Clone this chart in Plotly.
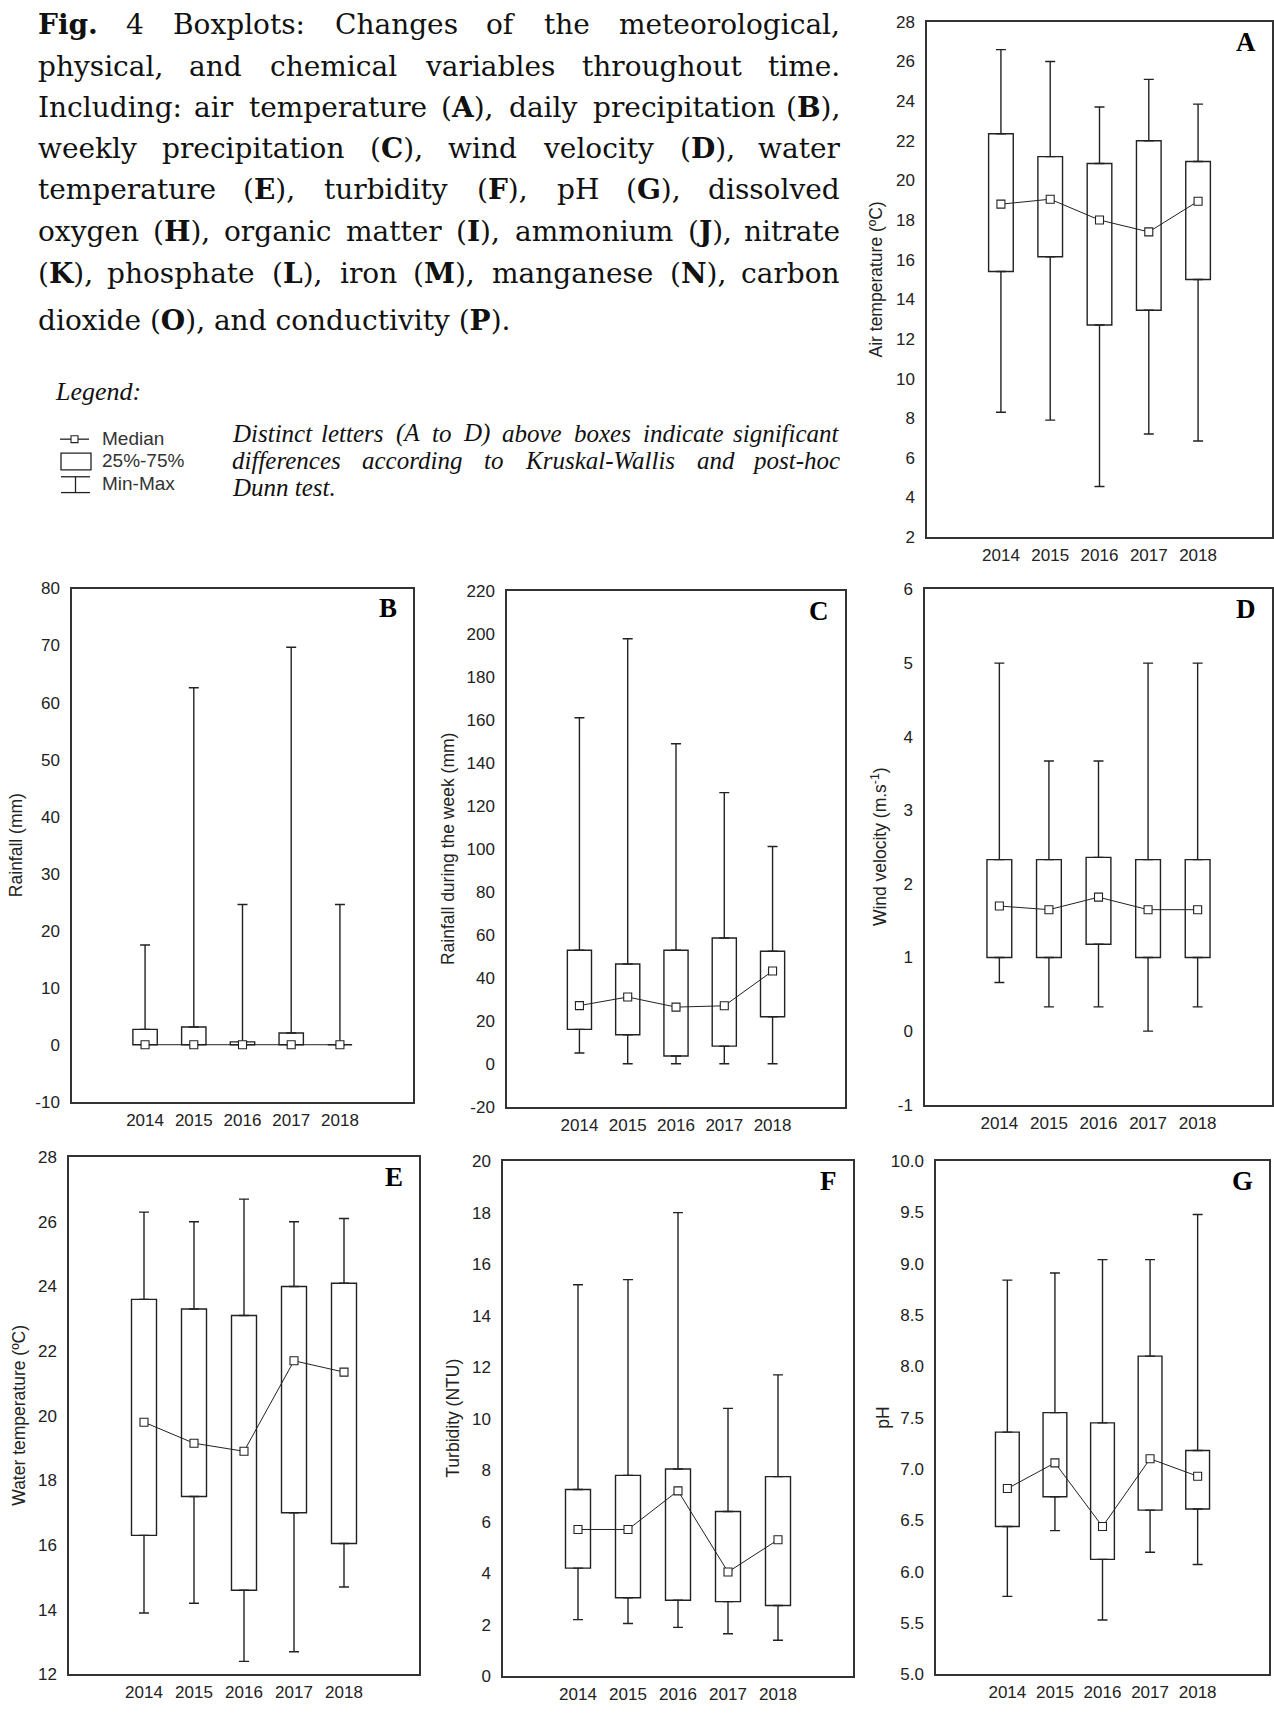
import re
import plotly.graph_objects as go

W, H = 1274, 1715
INK = "#222222"
FRAME = "#333333"

years = ["2014", "2015", "2016", "2017", "2018"]

# A - air temperature (ºC)
air_min = [8.3, 7.9, 4.55, 7.2, 6.85]
air_q1 = [15.4, 16.15, 12.7, 13.45, 15.0]
air_med = [18.8, 19.05, 18.0, 17.4, 18.95]
air_q3 = [22.35, 21.2, 20.85, 22.0, 20.95]
air_max = [26.6, 26.0, 23.7, 25.1, 23.85]
air_ticks = [2, 4, 6, 8, 10, 12, 14, 16, 18, 20, 22, 24, 26, 28]

# B - daily rainfall (mm)
rain_min = [0, 0, 0, 0, 0]
rain_q1 = [0, 0, 0, 0, 0]
rain_med = [0, 0, 0, 0, 0]
rain_q3 = [2.7, 3.1, 0.5, 2.05, 0]
rain_max = [17.5, 62.6, 24.6, 69.7, 24.6]
rain_ticks = [-10, 0, 10, 20, 30, 40, 50, 60, 70, 80]

# C - weekly rainfall (mm)
week_min = [5.0, 0, 0, 0, 0]
week_q1 = [16.0, 13.5, 3.6, 8.2, 21.9]
week_med = [27.1, 31.1, 26.4, 27.0, 43.2]
week_q3 = [52.9, 46.5, 52.9, 58.6, 52.4]
week_max = [161.2, 198.0, 149.1, 126.3, 101.2]
week_ticks = [-20, 0, 20, 40, 60, 80, 100, 120, 140, 160, 180, 200, 220]

# D - wind velocity (m/s)
wind_min = [0.66, 0.33, 0.33, 0.0, 0.33]
wind_q1 = [1.0, 1.0, 1.18, 1.0, 1.0]
wind_med = [1.70, 1.65, 1.82, 1.65, 1.65]
wind_q3 = [2.33, 2.33, 2.36, 2.33, 2.33]
wind_max = [5.0, 3.67, 3.67, 5.0, 5.0]
wind_ticks = [-1, 0, 1, 2, 3, 4, 5, 6]

# E - water temperature (ºC)
water_min = [13.9, 14.2, 12.4, 12.7, 14.7]
water_q1 = [16.3, 17.5, 14.6, 17.0, 16.05]
water_med = [19.8, 19.15, 18.9, 21.7, 21.35]
water_q3 = [23.6, 23.3, 23.1, 24.0, 24.1]
water_max = [26.3, 26.0, 26.7, 26.0, 26.1]
water_ticks = [12, 14, 16, 18, 20, 22, 24, 26, 28]

# F - turbidity (NTU)
turb_min = [2.2, 2.05, 1.9, 1.65, 1.4]
turb_q1 = [4.2, 3.05, 2.95, 2.9, 2.75]
turb_med = [5.7, 5.7, 7.2, 4.05, 5.3]
turb_q3 = [7.25, 7.8, 8.05, 6.4, 7.75]
turb_max = [15.2, 15.4, 18.0, 10.4, 11.7]
turb_ticks = [0, 2, 4, 6, 8, 10, 12, 14, 16, 18, 20]

# G - pH
ph_min = [5.76, 6.4, 5.53, 6.19, 6.07]
ph_q1 = [6.44, 6.73, 6.12, 6.6, 6.61]
ph_med = [6.81, 7.06, 6.44, 7.1, 6.93]
ph_q3 = [7.36, 7.55, 7.45, 8.1, 7.18]
ph_max = [8.84, 8.91, 9.04, 9.04, 9.48]
ph_ticks = [5.0, 5.5, 6.0, 6.5, 7.0, 7.5, 8.0, 8.5, 9.0, 9.5, 10.0]

# panel frames in page pixels: left, right, top, bottom; tx = y-title centre
panels = [
    dict(letter="A", title="Air temperature (ºC)", ticks=air_ticks, fmt="{:g}",
         box=(927, 1272, 13, 534), tx=876,
         data=(air_min, air_q1, air_med, air_q3, air_max)),
    dict(letter="B", title="Rainfall (mm)", ticks=rain_ticks, fmt="{:g}",
         box=(72, 413, 586, 1105), tx=16,
         data=(rain_min, rain_q1, rain_med, rain_q3, rain_max)),
    dict(letter="C", title="Rainfall during the week (mm)", ticks=week_ticks, fmt="{:g}",
         box=(507, 845, 589, 1110), tx=448,
         data=(week_min, week_q1, week_med, week_q3, week_max)),
    dict(letter="D", title="Wind velocity (m.s<sup>-1</sup>)", ticks=wind_ticks, fmt="{:g}",
         box=(925, 1272, 587, 1108), tx=879,
         data=(wind_min, wind_q1, wind_med, wind_q3, wind_max)),
    dict(letter="E", title="Water temperature (ºC)", ticks=water_ticks, fmt="{:g}",
         box=(69, 419, 1161, 1684), tx=19,
         data=(water_min, water_q1, water_med, water_q3, water_max)),
    dict(letter="F", title="Turbidity (NTU)", ticks=turb_ticks, fmt="{:g}",
         box=(503, 853, 1165, 1686), tx=453,
         data=(turb_min, turb_q1, turb_med, turb_q3, turb_max)),
    dict(letter="G", title="pH", ticks=ph_ticks, fmt="{:.1f}",
         box=(936, 1269, 1165, 1684), tx=883,
         data=(ph_min, ph_q1, ph_med, ph_q3, ph_max)),
]


def fx(px):
    return px / W


def fy(py):
    return 1 - py / H


fig = go.Figure()
annotations = []
shapes = []

for i, p in enumerate(panels):
    n = "" if i == 0 else str(i + 1)
    xa, ya = "x" + n, "y" + n
    lo, q1, med, q3, hi = p["data"]
    left, right, top, bottom = p["box"]

    # 25%-75% boxes
    fig.add_trace(go.Bar(
        x=years, y=[b - a for a, b in zip(q1, q3)], base=q1, width=0.5,
        marker=dict(color="white", line=dict(color=INK, width=1.4)),
        xaxis=xa, yaxis=ya, showlegend=False, hoverinfo="skip"))
    # upper whiskers (Q3 -> max)
    fig.add_trace(go.Scatter(
        x=years, y=q3, mode="markers", marker=dict(size=1, opacity=0),
        error_y=dict(type="data", symmetric=False,
                     array=[b - a for a, b in zip(q3, hi)], arrayminus=[0] * 5,
                     width=5, thickness=1.4, color=INK),
        xaxis=xa, yaxis=ya, showlegend=False, hoverinfo="skip"))
    # lower whiskers (min -> Q1)
    fig.add_trace(go.Scatter(
        x=years, y=q1, mode="markers", marker=dict(size=1, opacity=0),
        error_y=dict(type="data", symmetric=False,
                     array=[0] * 5, arrayminus=[a - b for a, b in zip(q1, lo)],
                     width=5, thickness=1.4, color=INK),
        xaxis=xa, yaxis=ya, showlegend=False, hoverinfo="skip"))
    # medians joined by a line
    fig.add_trace(go.Scatter(
        x=years, y=med, mode="lines+markers",
        line=dict(color=INK, width=1),
        marker=dict(symbol="square", size=8, color="white",
                    line=dict(color=INK, width=1.1)),
        xaxis=xa, yaxis=ya, showlegend=False, hoverinfo="skip"))

    ticks = p["ticks"]
    axis_common = dict(showline=True, mirror=True, linecolor=FRAME, linewidth=1.5,
                       showgrid=False, zeroline=False, ticks="", fixedrange=True,
                       tickfont=dict(family="Liberation Sans, Arial", size=17, color=INK))
    fig.layout["xaxis" + n] = dict(
        axis_common, type="category", range=[-1.5, 5.5],
        domain=[fx(left), fx(right)], anchor=ya, ticklabelstandoff=2)
    fig.layout["yaxis" + n] = dict(
        axis_common, range=[ticks[0], ticks[-1]], tickmode="array",
        tickvals=ticks, ticktext=[p["fmt"].format(v) for v in ticks],
        domain=[fy(bottom), fy(top)], anchor=xa, ticklabelstandoff=7)

    annotations.append(dict(
        text=p["title"], textangle=-90, xref="paper", yref="paper",
        x=fx(p["tx"]), y=fy((top + bottom) / 2), xanchor="center", yanchor="middle",
        showarrow=False, font=dict(family="Liberation Sans, Arial", size=17.5, color=INK)))
    annotations.append(dict(
        text="<b>%s</b>" % p["letter"], xref="paper", yref="paper",
        x=fx(right - 14), y=fy(top + 20), xanchor="right", yanchor="middle",
        showarrow=False, font=dict(family="Liberation Serif, Times New Roman", size=27,
                                   color="#000000")))

# ---- caption text, fully justified word by word ----
SERIF_W = dict(
    a=.596, b=.640, c=.560, d=.640, e=.592, f=.370, g=.640, h=.648, i=.322, j=.315,
    k=.608, l=.322, m=.965, n=.648, o=.602, p=.640, q=.640, r=.478, s=.510, t=.400,
    u=.648, v=.592, w=.832, x=.592, y=.592, z=.530,
    A=.722, B=.688, C=.699, D=.762, E=.688, F=.654, G=.752, H=.817, I=.375, J=.375,
    K=.732, L=.648, M=.917, N=.787, O=.771, P=.630)
SERIF_W.update({" ": .318, "(": .390, ")": .390, ",": .318, ".": .318, ":": .337})
ITALIC_W = dict(
    a=.5, b=.5, c=.444, d=.5, e=.444, f=.278, g=.5, h=.5, i=.278, j=.278, k=.444,
    l=.278, m=.722, n=.5, o=.5, p=.5, q=.5, r=.389, s=.389, t=.278, u=.5, v=.444,
    w=.667, x=.444, y=.444, z=.389, A=.611, D=.722, K=.667, W=.833)
ITALIC_W.update({" ": .25, "(": .333, ")": .333, ",": .25, ".": .25, "-": .333})


def text_width(word, table, size):
    total = 0.0
    bold = False
    for part in re.split(r"(</?[bi]>)", word):
        if part == "<b>":
            bold = True
        elif part == "</b>":
            bold = False
        elif part in ("<i>", "</i>"):
            continue
        else:
            for ch in part:
                w = table.get(ch, 0.636 if ch.isdigit() else 0.6)
                total += w * (1.1 if bold else 1.0)
    return total * size


def set_line(words, x0, x1, y, size, family, table, color, justify=True):
    if not justify:
        annotations.append(dict(
            text=" ".join(words), xref="paper", yref="paper", x=fx(x0), y=fy(y),
            xanchor="left", yanchor="middle", showarrow=False,
            font=dict(family=family, size=size, color=color)))
        return
    widths = [text_width(w, table, size) for w in words]
    gap = (x1 - x0 - sum(widths)) / (len(words) - 1)
    pos = x0
    for k, (word, wd) in enumerate(zip(words, widths)):
        if k == 0:
            xx, anchor = x0, "left"
        elif k == len(words) - 1:
            xx, anchor = x1, "right"
        else:
            xx, anchor = pos + wd / 2, "center"
        annotations.append(dict(
            text=word, xref="paper", yref="paper", x=fx(xx), y=fy(y),
            xanchor=anchor, yanchor="middle", showarrow=False,
            font=dict(family=family, size=size, color=color)))
        pos += wd + gap


caption_lines = [
    ["<b>Fig.</b>", "4", "Boxplots:", "Changes", "of", "the", "meteorological,"],
    ["physical,", "and", "chemical", "variables", "throughout", "time."],
    ["Including:", "air", "temperature", "(<b>A</b>),", "daily", "precipitation", "(<b>B</b>),"],
    ["weekly", "precipitation", "(<b>C</b>),", "wind", "velocity", "(<b>D</b>),", "water"],
    ["temperature", "(<b>E</b>),", "turbidity", "(<b>F</b>),", "pH", "(<b>G</b>),", "dissolved"],
    ["oxygen", "(<b>H</b>),", "organic", "matter", "(<b>I</b>),", "ammonium", "(<b>J</b>),", "nitrate"],
    ["(<b>K</b>),", "phosphate", "(<b>L</b>),", "iron", "(<b>M</b>),", "manganese", "(<b>N</b>),", "carbon"],
    ["dioxide", "(<b>O</b>),", "and", "conductivity", "(<b>P</b>)."],
]
caption_y = [16, 58, 100, 141, 183, 225, 267, 315]
CAP_FONT = "DejaVu Serif"
for k, (words, yy) in enumerate(zip(caption_lines, caption_y)):
    set_line(words, 36, 842, yy, 28, CAP_FONT, SERIF_W, "#111111",
             justify=(k < len(caption_lines) - 1))

# ---- legend block ----
ITAL = "Liberation Serif, Times New Roman"
annotations.append(dict(
    text="<i>Legend:</i>", xref="paper", yref="paper", x=fx(53), y=fy(387),
    xanchor="left", yanchor="middle", showarrow=False,
    font=dict(family=ITAL, size=26, color="#111111")))

note_lines = [
    ["<i>Distinct</i>", "<i>letters</i>", "<i>(A</i>", "<i>to</i>", "<i>D)</i>",
     "<i>above</i>", "<i>boxes</i>", "<i>indicate</i>", "<i>significant</i>"],
    ["<i>differences</i>", "<i>according</i>", "<i>to</i>", "<i>Kruskal-Wallis</i>",
     "<i>and</i>", "<i>post-hoc</i>"],
    ["<i>Dunn</i>", "<i>test.</i>"],
]
note_y = [429, 457, 484]
for k, (words, yy) in enumerate(zip(note_lines, note_y)):
    set_line(words, 230, 842, yy, 25, ITAL, ITALIC_W, "#111111", justify=(k < 2))

legend_items = [("Median", 434), ("25%-75%", 457), ("Min-Max", 480)]
for label, yy in legend_items:
    annotations.append(dict(
        text=label, xref="paper", yref="paper", x=fx(100), y=fy(yy),
        xanchor="left", yanchor="middle", showarrow=False,
        font=dict(family="Liberation Sans, Arial", size=19, color="#333333")))

key_line = dict(color=INK, width=1.3)
# median key
shapes.append(dict(type="line", xref="paper", yref="paper",
                   x0=fx(60), x1=fx(89), y0=fy(435), y1=fy(435), line=key_line))
shapes.append(dict(type="rect", xref="paper", yref="paper",
                   x0=fx(71), x1=fx(78), y0=fy(431.5), y1=fy(438.5),
                   line=dict(color=INK, width=1.1), fillcolor="white"))
# box key
shapes.append(dict(type="rect", xref="paper", yref="paper",
                   x0=fx(61), x1=fx(91), y0=fy(449), y1=fy(466),
                   line=key_line, fillcolor="white"))
# min-max key
shapes.append(dict(type="line", xref="paper", yref="paper",
                   x0=fx(61), x1=fx(90), y0=fy(473), y1=fy(473), line=key_line))
shapes.append(dict(type="line", xref="paper", yref="paper",
                   x0=fx(75.5), x1=fx(75.5), y0=fy(473), y1=fy(489), line=key_line))
shapes.append(dict(type="line", xref="paper", yref="paper",
                   x0=fx(61), x1=fx(90), y0=fy(489), y1=fy(489), line=key_line))

fig.update_layout(
    width=W, height=H, autosize=False,
    margin=dict(l=0, r=0, t=0, b=0),
    paper_bgcolor="white", plot_bgcolor="white",
    barmode="overlay", showlegend=False, hovermode=False,
    annotations=annotations, shapes=shapes,
)

fig.write_html("out.html")
